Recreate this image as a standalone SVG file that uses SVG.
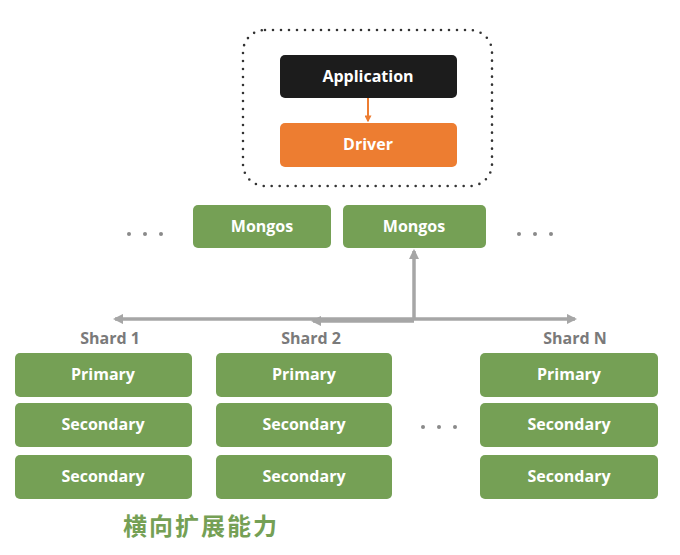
<svg xmlns="http://www.w3.org/2000/svg" width="680" height="555" viewBox="0 0 680 555">
<style>
.g{fill:#75a055}
.t{font-family:"Open Sans","Liberation Sans",sans-serif;font-weight:700;font-size:16px;fill:#fff;text-anchor:middle}
.s{font-family:"Open Sans","Liberation Sans",sans-serif;font-weight:700;font-size:16px;fill:#7a7a7a;text-anchor:middle}
.d{fill:#8a8a8a}
.c{stroke:#a6a6a6;stroke-width:3.5;fill:none}
</style>
<defs>
<marker id="ah" viewBox="0 0 10 10" refX="8" refY="5" markerWidth="3" markerHeight="3" orient="auto-start-reverse"><path d="M0,0 L10,5 L0,10 z" fill="#a6a6a6"/></marker>
<marker id="ao" viewBox="0 0 10 10" refX="8" refY="5" markerWidth="3.5" markerHeight="3.5" orient="auto"><path d="M0,0 L10,5 L0,10 z" fill="#ed7d31"/></marker>
</defs>
<rect width="680" height="555" fill="#fff"/>
<rect x="243" y="30" width="249" height="156" rx="22" fill="none" stroke="#333" stroke-width="2.6" stroke-linecap="round" stroke-dasharray="0 8"/>
<g id="connectors">
<line x1="368" y1="98" x2="368" y2="121" stroke="#ed7d31" stroke-width="2" marker-end="url(#ao)"/>
<line class="c" x1="414" y1="319" x2="414" y2="251" marker-end="url(#ah)"/>
<line class="c" x1="115" y1="319" x2="575" y2="319" marker-start="url(#ah)" marker-end="url(#ah)"/>
<line class="c" x1="414" y1="321" x2="313" y2="321" marker-end="url(#ah)"/>
</g>
<g id="application"><rect x="280" y="55" width="177" height="43" rx="5" fill="#1c1c1c"/><text class="t" x="368" y="82">Application</text></g>
<g id="driver"><rect x="280" y="123" width="177" height="44" rx="5" fill="#ed7d31"/><text class="t" x="368" y="150">Driver</text></g>
<g id="mongos1"><rect class="g" x="193" y="205" width="138" height="43" rx="5"/><text class="t" x="262" y="232">Mongos</text></g>
<g id="mongos2"><rect class="g" x="343" y="205" width="143" height="43" rx="5"/><text class="t" x="414" y="232">Mongos</text></g>
<g id="dots-left"><circle class="d" cx="129" cy="234" r="2"/><circle class="d" cx="145" cy="234" r="2"/><circle class="d" cx="161" cy="234" r="2"/></g>
<g id="dots-right"><circle class="d" cx="519" cy="234" r="2"/><circle class="d" cx="535" cy="234" r="2"/><circle class="d" cx="551" cy="234" r="2"/></g>
<g id="dots-mid"><circle class="d" cx="423" cy="427" r="2"/><circle class="d" cx="439" cy="427" r="2"/><circle class="d" cx="455" cy="427" r="2"/></g>
<g id="shard1">
<text class="s" x="110" y="344">Shard 1</text>
<rect class="g" x="15" y="353" width="177" height="44" rx="5"/><text class="t" x="103" y="380">Primary</text>
<rect class="g" x="15" y="403" width="177" height="44" rx="5"/><text class="t" x="103" y="430">Secondary</text>
<rect class="g" x="15" y="455" width="177" height="44" rx="5"/><text class="t" x="103" y="482">Secondary</text>
</g>
<g id="shard2">
<text class="s" x="311" y="344">Shard 2</text>
<rect class="g" x="216" y="353" width="176" height="44" rx="5"/><text class="t" x="304" y="380">Primary</text>
<rect class="g" x="216" y="403" width="176" height="44" rx="5"/><text class="t" x="304" y="430">Secondary</text>
<rect class="g" x="216" y="455" width="176" height="44" rx="5"/><text class="t" x="304" y="482">Secondary</text>
</g>
<g id="shardN">
<text class="s" x="575" y="344">Shard N</text>
<rect class="g" x="480" y="353" width="178" height="44" rx="5"/><text class="t" x="569" y="380">Primary</text>
<rect class="g" x="480" y="403" width="178" height="44" rx="5"/><text class="t" x="569" y="430">Secondary</text>
<rect class="g" x="480" y="455" width="178" height="44" rx="5"/><text class="t" x="569" y="482">Secondary</text>
</g>
<text x="201" y="535" font-family="'Noto Sans CJK SC',sans-serif" font-weight="700" font-size="24" letter-spacing="2" fill="#75a055" text-anchor="middle">横向扩展能力</text>
</svg>
